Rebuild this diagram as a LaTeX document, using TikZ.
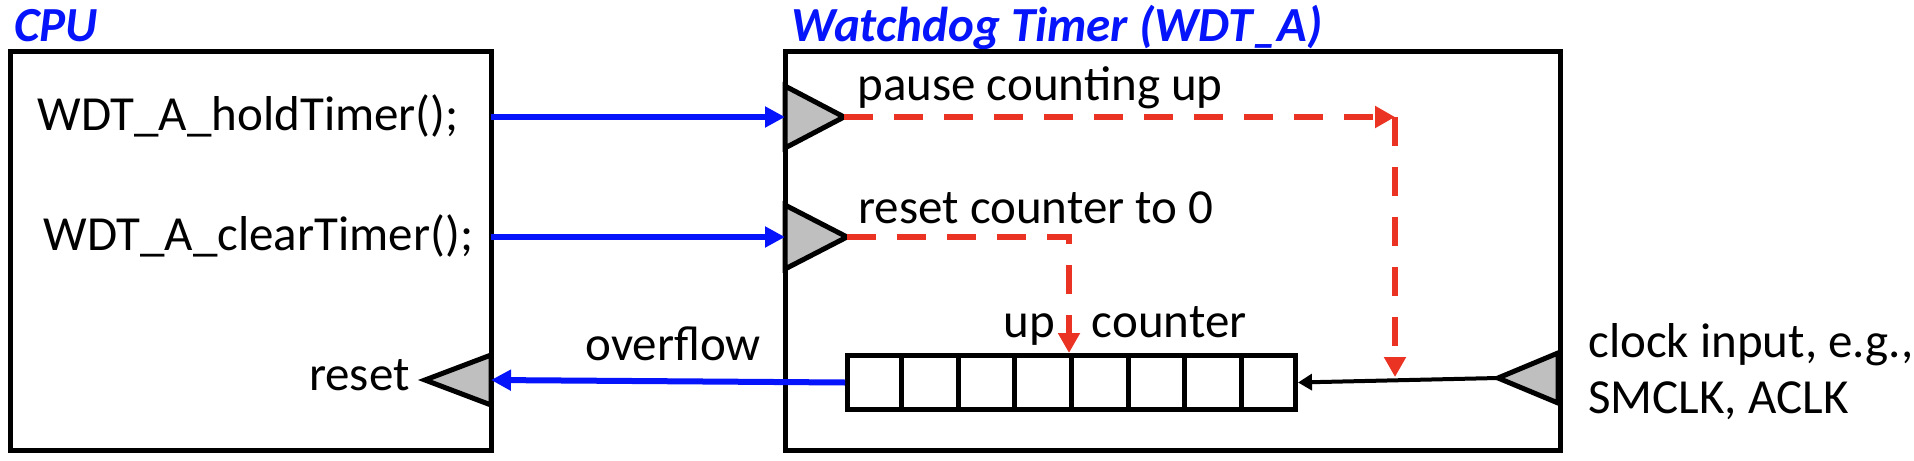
\documentclass[tikz,border=0pt]{standalone}
\usepackage{fontspec}
\setmainfont{Carlito}
\usetikzlibrary{arrows.meta,calc}
\definecolor{myblue}{RGB}{5,20,250}
\definecolor{myred}{RGB}{234,51,35}
\definecolor{mygray}{RGB}{191,191,191}
\tikzset{
  box/.style={draw=black, line width=2.5pt},
  port/.style={draw=black, fill=mygray, line width=2.5pt, line join=miter},
  bluearrow/.style={draw=myblue, line width=3pt, -{Triangle[length=10pt,width=10pt]}},
  redarrow/.style={draw=myred, line width=3.2pt, dash pattern=on 14.5pt off 10.5pt, -{Triangle[length=10pt,width=10.5pt]}},
  clkarrow/.style={draw=black, line width=2pt, -{Triangle[length=7pt,width=8pt]}},
  lbl/.style={font=\fontsize{24.5}{28}\selectfont, inner sep=0pt, text=black},
  title/.style={font=\fontsize{24.5}{28}\selectfont\bfseries\itshape, inner sep=0pt, text=myblue},
}
\begin{document}
\begin{tikzpicture}[x=0.5pt,y=-0.5pt]
\useasboundingbox (0,0) rectangle (1914,460);
% titles
\node[title, anchor=base west] (cputitle) at (14,42) {CPU};
\node[title, anchor=base west] (wdttitle) at (791,42) {Watchdog Timer (WDT\_A)};
% boxes
\draw[box] (10,52) rectangle (491,450);
\draw[box] (785,52) rectangle (1560,450);
% ports (triangles)
\coordinate (holdB) at (785,117);
\coordinate (holdT) at (844,117);
\coordinate (clearB) at (785,237);
\coordinate (clearT) at (847,237);
\coordinate (rstB) at (491,380);
\coordinate (rstT) at (425,380);
\coordinate (clkB) at (1558,378);
\coordinate (clkT) at (1498,378);
\draw[port] (785,86) -- (844,117) -- (785,148) -- cycle;
\draw[port] (785,205) -- (847,237) -- (785,269) -- cycle;
\draw[port] (491,355) -- (425,380) -- (491,405) -- cycle;
\draw[port] (1558,353) -- (1498,378) -- (1558,403) -- cycle;
% texts in CPU
\node[lbl, anchor=base west] (hold) at (37,130) {WDT\_A\_holdTimer();};
\node[lbl, anchor=base west] (clear) at (43,250) {WDT\_A\_clearTimer();};
\node[lbl, anchor=base east] (rsttxt) at (410,390) {reset};
% texts in WDT
\node[lbl, anchor=base west] (pause) at (857,100) {pause counting up};
\node[lbl, anchor=base west] (rescnt) at (858,223) {reset counter to 0};
\node[lbl, anchor=base west] (upcnt) at (1003,337) {up\hspace{13pt} counter};
\node[lbl, anchor=base west] (ovf) at (585,360) {overflow};
\node[lbl, anchor=base west] (clk1) at (1588,357) {clock input, e.g.,};
\node[lbl, anchor=base west] (clk2) at (1588,413) {SMCLK, ACLK};
% counter
\node[draw=black, line width=2.5pt, minimum width=224pt, minimum height=27pt, inner sep=0pt, anchor=north west] (cnt) at (845,353) {};
\foreach \i in {1,...,7} {
  \draw[line width=2.5pt] ($(cnt.north west)!\i/8!(cnt.north east)$) -- ($(cnt.south west)!\i/8!(cnt.south east)$);
}
% blue arrows
\draw[bluearrow] (491,117) -- (holdB);
\draw[bluearrow] (491,237) -- (clearB);
\draw[bluearrow] (cnt.west) -- (rstB);
% clock arrow
\draw[clkarrow] (clkT) -- (cnt.east);
% red dashed arrows
\coordinate (pcorner) at (1395,117);
\coordinate (pend) at (1395,377);
\draw[redarrow] (holdT) -- (pcorner);
\draw[redarrow] (pcorner) -- (pend);
\coordinate (rend) at (1069,353);
\draw[redarrow] (clearT) -| (rend);
\end{tikzpicture}
\end{document}
